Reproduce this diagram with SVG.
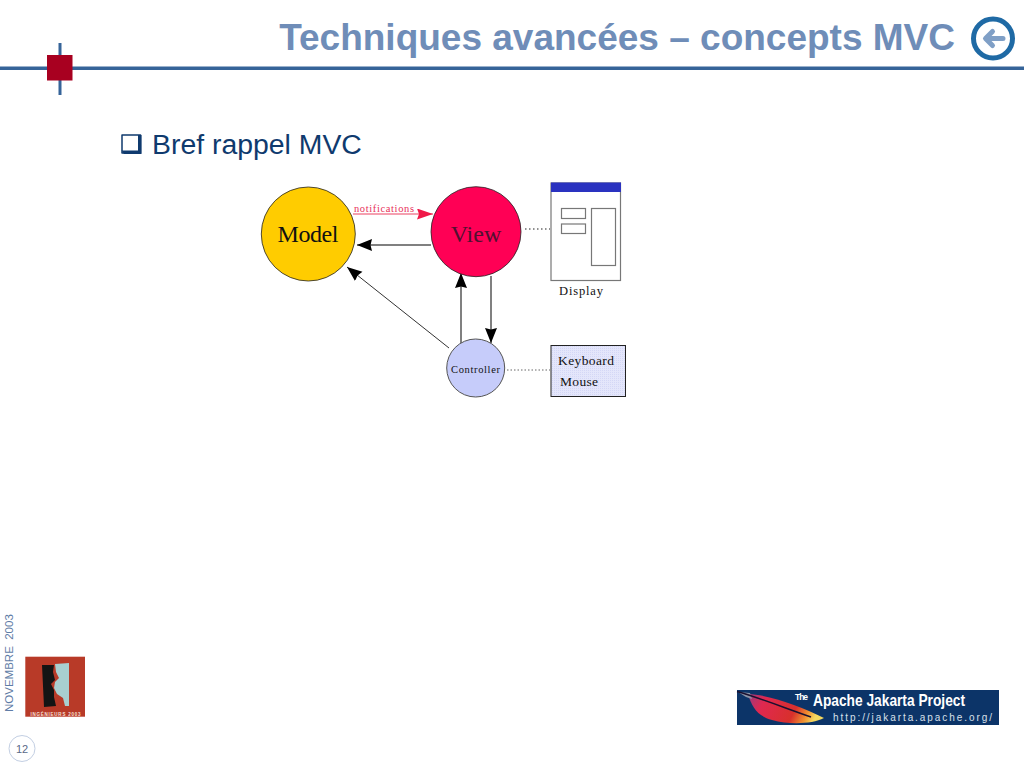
<svg xmlns="http://www.w3.org/2000/svg" width="1024" height="768" viewBox="0 0 1024 768">
<style>
.serif{font-family:"Liberation Serif","DejaVu Serif",serif;fill:#111}
.sans{font-family:"Liberation Sans",Arial,sans-serif}
.gl{stroke:#808080;stroke-width:2;fill:none}
.box{fill:#fff;stroke:#777;stroke-width:1.200}
.node{stroke:#222;stroke-width:.8}
</style>
<defs>
<marker id="ah" markerUnits="userSpaceOnUse" markerWidth="16" markerHeight="13" refX="15" refY="6" orient="auto"><path d="M0 0L15 6L0 12L1.500 6Z" fill="#000"/></marker>
<marker id="ar" markerUnits="userSpaceOnUse" markerWidth="17" markerHeight="12" refX="16" refY="5.500" orient="auto"><path d="M0 0L16 5.500L0 11L2 5.500Z" fill="#f01848"/></marker>
<pattern id="hatch" width="2" height="2" patternUnits="userSpaceOnUse"><rect width="2" height="2" fill="#e4e6fb"/><rect width="1" height="1" fill="#d4d7f6"/></pattern>
<linearGradient id="feather" x1="0" y1="0" x2="1" y2="0.200"><stop offset="0" stop-color="#9a3a80"/><stop offset=".25" stop-color="#e02850"/><stop offset=".7" stop-color="#d8302c"/><stop offset=".88" stop-color="#f09030"/><stop offset="1" stop-color="#f4d860"/></linearGradient>
</defs>
<rect width="1024" height="768" fill="#fff"/>
<g id="header">
<rect x="0" y="66.500" width="1024" height="3.500" fill="#366499"/>
<rect x="58.500" y="43" width="3" height="52" fill="#366499"/>
<rect x="47" y="55" width="25.500" height="25.500" fill="#a80020"/>
<text x="955" y="50" text-anchor="end" class="sans" font-size="37" font-weight="bold" fill="#6f8db8">Techniques avancées – concepts MVC</text>
<circle cx="993" cy="38.500" r="19.500" fill="#fff" stroke="#1f6aa5" stroke-width="5"/>
<path d="M1003 38.500H986M992.500 31.500L985.500 38.500L992.500 45.500" fill="none" stroke="#7f9fc6" stroke-width="5" stroke-linecap="round" stroke-linejoin="round"/>
</g>
<g id="bullet">
<path d="M122 135H140.500V153H122Z" fill="#fff" stroke="#0f3a6e" stroke-width="1.500" stroke-linejoin="round"/>
<path d="M121.500 150.500H138V135H141.500V154H124Z" fill="#0f3a6e"/>
<text x="152" y="154" class="sans" font-size="28.400" fill="#0f3a6e">Bref rappel MVC</text>
</g>
<g id="connectors">
<line x1="353" y1="214" x2="433" y2="214" stroke="#f5a0b0" stroke-width="2" marker-end="url(#ar)"/>
<line x1="431" y1="245" x2="357" y2="245" class="gl" marker-end="url(#ah)"/>
<line x1="449" y1="348" x2="347" y2="267" stroke="#333" stroke-width="1" marker-end="url(#ah)"/>
<line x1="461" y1="343" x2="461" y2="273" class="gl" marker-end="url(#ah)"/>
<line x1="491" y1="276" x2="491" y2="343" class="gl" marker-end="url(#ah)"/>
<line x1="525" y1="229" x2="550" y2="229" stroke="#222" stroke-width="1.200" stroke-dasharray="1.500 2.500"/>
<line x1="507" y1="370" x2="550" y2="370" stroke="#666" stroke-width="1" stroke-dasharray="1.500 2"/>
</g>
<g id="model"><circle cx="308.300" cy="234" r="47" fill="#ffcc00" class="node"/><text x="308" y="242" text-anchor="middle" class="serif" font-size="24" textLength="61">Model</text></g>
<text x="354" y="212" class="serif" font-size="10.500" style="fill:#e8305a" textLength="60">notifications</text>
<g id="view"><circle cx="476" cy="231.700" r="45" fill="#ff0055" class="node"/><text x="476" y="242" text-anchor="middle" class="serif" font-size="24" style="fill:#501030">View</text></g>
<g id="controller"><circle cx="475.700" cy="368" r="29" fill="#c6ccfa" stroke="#555" stroke-width="1"/><text x="451" y="373" class="serif" font-size="10.500" textLength="49">Controller</text></g>
<g id="display">
<rect x="551" y="183" width="69.500" height="97.500" class="box"/>
<rect x="551" y="182.500" width="70" height="9.500" fill="#2a32c0"/>
<rect x="561.500" y="208.500" width="24" height="10" class="box"/>
<rect x="561.500" y="224" width="24" height="9.500" class="box"/>
<rect x="591.500" y="208.500" width="24" height="57" class="box"/>
<text x="559" y="295" class="serif" font-size="12.500" textLength="44">Display</text>
</g>
<g id="input">
<rect x="551" y="345.500" width="74.500" height="51" fill="url(#hatch)" stroke="#222" stroke-width="1"/>
<text x="558" y="365" class="serif" font-size="13.500" textLength="56">Keyboard</text>
<text x="560" y="386" class="serif" font-size="13.500" textLength="38">Mouse</text>
</g>
<g id="footer">
<text transform="translate(12.500 712) rotate(-90)" class="sans" font-size="11.500" fill="#5f7ca6" xml:space="preserve">NOVEMBRE  2003</text>
<rect x="25.300" y="656.700" width="59.700" height="60" fill="#b83a28"/>
<path d="M42 665H54L53 672L55 680L51 684L54 690V697L56 706L44 707Z" fill="#141414"/>
<path d="M55 664L69 663V706L65 706L63 698L57 694L54 688L55 682L59 678L56 672Z" fill="#a8cfd0"/>
<text x="55.500" y="716" text-anchor="middle" class="sans" font-size="4.500" font-weight="bold" fill="#f4e0d8" textLength="50">INGÉNIEURS 2003</text>
<circle cx="22" cy="748.500" r="13" fill="#fff" stroke="#c3cfe3" stroke-width="1"/>
<text x="22" y="752.500" text-anchor="middle" class="sans" font-size="11" fill="#5a6a88">12</text>
</g>
<g id="apache">
<rect x="737" y="690" width="262" height="35" fill="#0c3468"/>
<path d="M748 694C770 695 800 706 824 718C812 724 790 725 772 720C758 716 752 708 748 694Z" fill="url(#feather)"/>
<path d="M738 692L750 693L752 699L746 697Z" fill="#8a94a8"/>
<path d="M737 691.500C760 698 785 708 811 717" fill="none" stroke="#1a1030" stroke-width="1.500"/>
<text x="795" y="700" class="sans" font-size="8.500" font-weight="bold" fill="#fff" textLength="13">The</text>
<text x="813" y="705.500" class="sans" font-size="17" font-weight="bold" fill="#fff" textLength="152" lengthAdjust="spacingAndGlyphs">Apache Jakarta Project</text>
<text x="833" y="720.500" class="sans" font-size="10" fill="#d8e0ea" textLength="159">http://jakarta.apache.org/</text>
</g>
</svg>
